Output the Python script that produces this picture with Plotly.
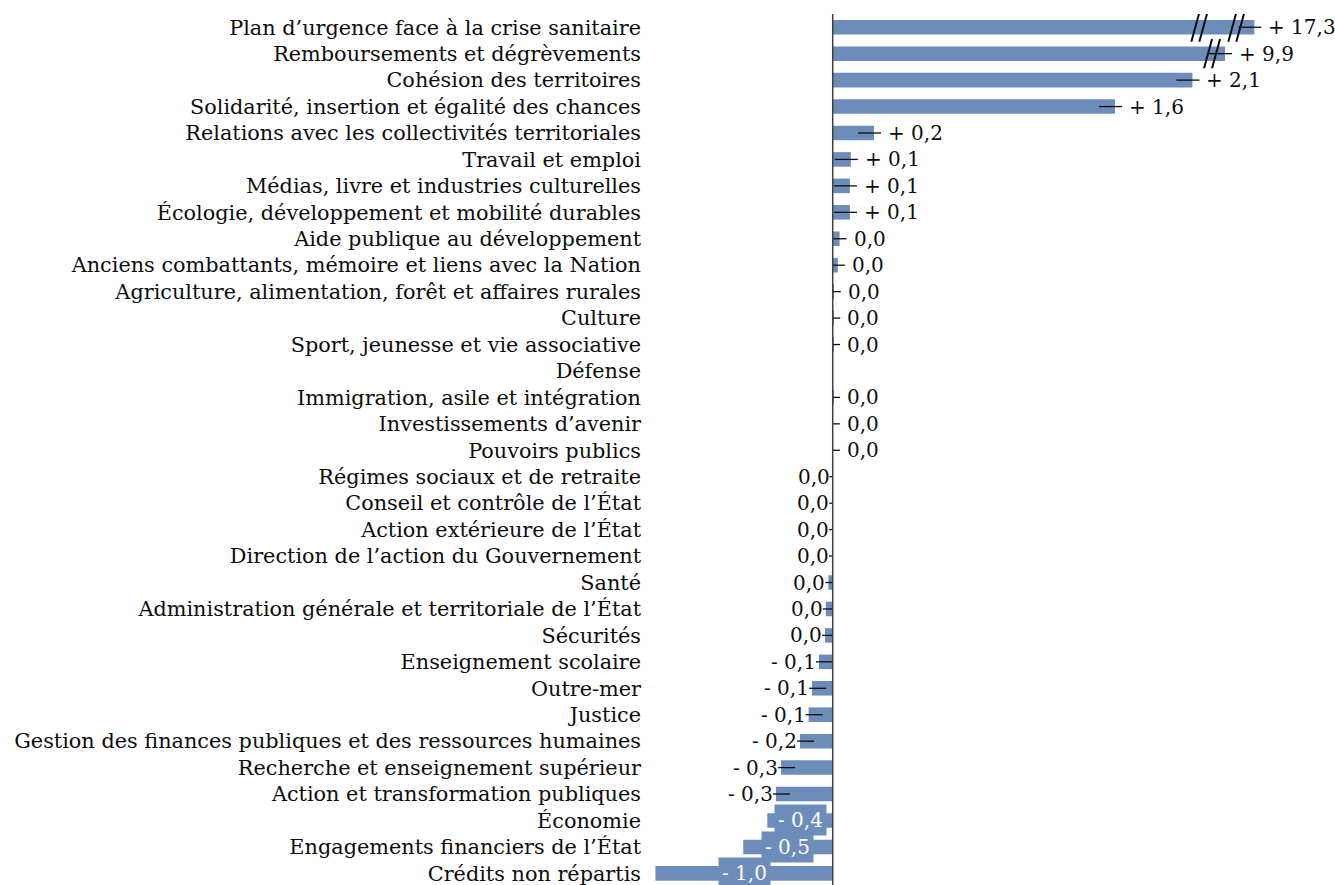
import plotly.graph_objects as go

# Budget missions, change in credits (Md€)
categories = [
    "Plan d’urgence face à la crise sanitaire",
    "Remboursements et dégrèvements",
    "Cohésion des territoires",
    "Solidarité, insertion et égalité des chances",
    "Relations avec les collectivités territoriales",
    "Travail et emploi",
    "Médias, livre et industries culturelles",
    "Écologie, développement et mobilité durables",
    "Aide publique au développement",
    "Anciens combattants, mémoire et liens avec la Nation",
    "Agriculture, alimentation, forêt et affaires rurales",
    "Culture",
    "Sport, jeunesse et vie associative",
    "Défense",
    "Immigration, asile et intégration",
    "Investissements d’avenir",
    "Pouvoirs publics",
    "Régimes sociaux et de retraite",
    "Conseil et contrôle de l’État",
    "Action extérieure de l’État",
    "Direction de l’action du Gouvernement",
    "Santé",
    "Administration générale et territoriale de l’État",
    "Sécurités",
    "Enseignement scolaire",
    "Outre-mer",
    "Justice",
    "Gestion des finances publiques et des ressources humaines",
    "Recherche et enseignement supérieur",
    "Action et transformation publiques",
    "Économie",
    "Engagements financiers de l’État",
    "Crédits non répartis",
]

values = [
    17.3, 9.9, 2.09, 1.64, 0.24, 0.105, 0.10, 0.10, 0.04, 0.03, 0.006,
    0.003, 0.002, None, 0.002, 0.001, 0.001,
    -0.001, -0.002, -0.003, -0.004, -0.025, -0.04, -0.045,
    -0.08, -0.12, -0.14, -0.19, -0.30, -0.33, -0.38, -0.52, -1.03,
]

# ---- layout geometry -------------------------------------------------------
W, H = 1335, 885
M_L, M_R, M_T, M_B = 652, 35, 14, 0
X_RANGE = [-1.05, 2.715]
PX = (W - M_L - M_R) / (X_RANGE[1] - X_RANGE[0])  # pixels per data unit

BAR_COLOR = "#6C8CBA"
TEXT_COLOR = "#0d0d0d"
FONT = "DejaVu Serif"
CAT_SIZE = 20.8
VAL_SIZE = 20

# broken axis: anything beyond BREAK_AT is squeezed
BREAK_AT = 2.1
BREAK_SCALE = 0.023
# break-mark pairs, pixel offsets from the end of each broken bar
BREAK_MARKS = {0: [-55, -18], 1: [-13]}
INSIDE_LIMIT = -0.35  # labels of bars below this sit inside the bar


def px(n):
    return n / PX


def shown(v):
    if v is None:
        return None
    return v if v <= BREAK_AT else BREAK_AT + (v - BREAK_AT) * BREAK_SCALE


def fmt(v):
    r = round(v, 1)
    if r == 0:
        return "0,0"
    txt = f"{abs(r):.1f}".replace(".", ",")
    return ("+ " if r > 0 else "- ") + txt


rows = list(range(len(categories)))
shown_vals = [shown(v) for v in values]

fig = go.Figure(
    go.Bar(
        x=shown_vals,
        y=rows,
        orientation="h",
        width=0.55,
        marker=dict(color=BAR_COLOR, line=dict(width=0)),
        hoverinfo="skip",
    )
)

shapes = []
annotations = []
lead = dict(color=TEXT_COLOR, width=1.3)
val_font = dict(family=FONT, size=VAL_SIZE, color=TEXT_COLOR)

for i, (v, end) in enumerate(zip(values, shown_vals)):
    if v is None:
        continue
    label = fmt(v)
    if v >= 0:
        shapes.append(dict(type="line", xref="x", yref="y",
                           x0=max(0, end - px(16)), x1=end + px(7), y0=i, y1=i,
                           line=lead))
        annotations.append(dict(x=end, y=i, xref="x", yref="y", text=label,
                                xanchor="left", yanchor="middle", xshift=12,
                                showarrow=False, font=val_font))
    elif v > INSIDE_LIMIT:
        shapes.append(dict(type="line", xref="x", yref="y",
                           x0=end - px(3), x1=min(0, end + px(14)), y0=i, y1=i,
                           line=lead))
        annotations.append(dict(x=end, y=i, xref="x", yref="y", text=label,
                                xanchor="right", yanchor="middle", xshift=-1,
                                showarrow=False, font=val_font))
    else:
        annotations.append(dict(x=end / 2, y=i, xref="x", yref="y", text=label,
                                xanchor="center", yanchor="middle",
                                showarrow=False, bgcolor=BAR_COLOR, borderpad=3,
                                font=dict(family=FONT, size=VAL_SIZE, color="white")))

# break marks on squeezed bars
for i, offsets in BREAK_MARKS.items():
    end = shown_vals[i]
    for off in offsets:
        for dx in (-4, 4):
            cx = end + px(off + dx)
            shapes.append(dict(type="line", xref="x", yref="y",
                               x0=cx - px(4), x1=cx + px(4),
                               y0=i + 0.55, y1=i - 0.55,
                               line=dict(color=TEXT_COLOR, width=2)))

# vertical axis at zero
shapes.append(dict(type="line", xref="x", yref="paper", x0=0, x1=0, y0=0, y1=1,
                   line=dict(color="#404040", width=1.5)))

fig.update_layout(
    width=W, height=H,
    margin=dict(l=M_L, r=M_R, t=M_T, b=M_B),
    paper_bgcolor="white", plot_bgcolor="white",
    showlegend=False,
    shapes=shapes,
    annotations=annotations,
    xaxis=dict(range=X_RANGE, showgrid=False, zeroline=False,
               showticklabels=False, ticks="", showline=False, fixedrange=True),
    yaxis=dict(range=[len(categories) - 0.56, -0.5], tickmode="array",
               tickvals=rows, ticktext=categories, showgrid=False,
               zeroline=False, showline=False, ticks="",
               ticklabelstandoff=10, ticklabeloverflow="allow",
               tickfont=dict(family=FONT, size=CAT_SIZE, color=TEXT_COLOR)),
)

fig.write_html("out.html")
